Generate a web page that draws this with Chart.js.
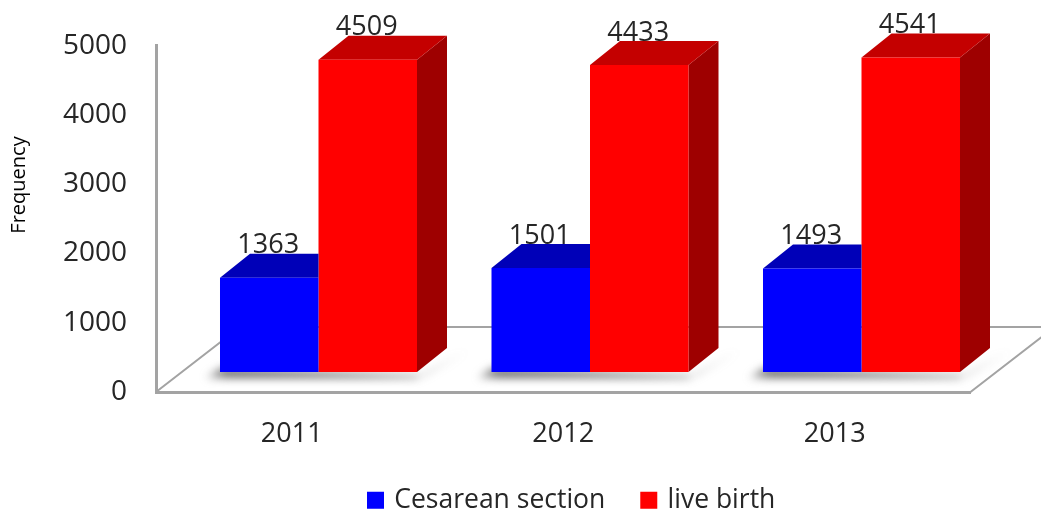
<!DOCTYPE html>
<html lang="en">
<head>
    <meta charset="UTF-8">
    <title>Cesarean section and live birth</title>
    <style>
        html, body { margin: 0; padding: 0; background: #fff; overflow: hidden; }
        #birthChart { display: block; }
    </style>
    <script src="https://cdn.jsdelivr.net/npm/chart.js"></script>
</head>
<body>
    <canvas id="birthChart" width="1041" height="514"></canvas>

    <script>
        const years = ['2011', '2012', '2013'];
        const cesarean = [1363, 1501, 1493];
        const liveBirth = [4509, 4433, 4541];
        const yTicks = [0, 1000, 2000, 3000, 4000, 5000];

        const textColor = '#262626';
        const axisColor = '#a3a3a3';
        const fontName = '"Open Sans", sans-serif';

        // front plane of the bars sits this far from the axis plane
        const shiftX = 26.75, shiftY = -20;
        const depthX = 30, depthY = -24;

        function poly(ctx, pts, color) {
            ctx.fillStyle = color;
            ctx.beginPath();
            pts.forEach((p, i) => i ? ctx.lineTo(p[0], p[1]) : ctx.moveTo(p[0], p[1]));
            ctx.closePath();
            ctx.fill();
        }

        const floorPlugin = {
            id: 'floor',
            beforeDatasetsDraw(chart) {
                const ctx = chart.ctx, a = chart.chartArea;
                ctx.save();
                // floor outline
                ctx.strokeStyle = axisColor;
                ctx.lineWidth = 2;
                ctx.beginPath();
                ctx.moveTo(a.left, a.bottom);
                ctx.lineTo(a.left + 84, a.bottom - 65);
                ctx.lineTo(chart.width + 10, a.bottom - 65);
                ctx.moveTo(a.right, a.bottom);
                ctx.lineTo(a.right + 84, a.bottom - 65);
                ctx.stroke();
                // soft shadow under each bar pair
                const first = chart.getDatasetMeta(0).data;
                const second = chart.getDatasetMeta(1).data;
                ctx.filter = 'blur(4px)';
                first.forEach((el, i) => {
                    const l = el.x - el.width / 2 + shiftX;
                    const r = second[i].x + second[i].width / 2 + shiftX;
                    const b = a.bottom + shiftY;
                    const g = ctx.createLinearGradient(l - 20, 0, r + depthX + 24, 0);
                    g.addColorStop(0, 'rgba(110,110,110,0.2)');
                    g.addColorStop(0.1, 'rgba(110,110,110,1)');
                    g.addColorStop(0.8, 'rgba(110,110,110,1)');
                    g.addColorStop(1, 'rgba(110,110,110,0)');
                    poly(ctx, [[l - 14, b + 6], [r, b + 6], [r + depthX + 14, b + depthY + 6], [r + depthX + 24, b + depthY + 1], [r + 6, b + 4], [l, b - 4]], g);
                });
                ctx.restore();
            }
        };

        // draws side and top faces, then leaves the front face to the bar element itself
        const depthPlugin = {
            id: 'depth',
            beforeDatasetDraw(chart, args) {
                const ctx = chart.ctx;
                // chart.js paints the last dataset first, so red is already down when blue comes
                const isBlue = args.index === 0;
                args.meta.data.forEach(el => {
                    const l = el.x - el.width / 2 + shiftX;
                    const r = el.x + el.width / 2 + shiftX;
                    const t = el.y + shiftY;
                    const b = el.base + shiftY;
                    if (isBlue) {
                        // the red bar next to it hides the rest of this face
                        poly(ctx, [[l, t], [l + depthX, t + depthY], [r, t + depthY], [r, t]], '#0000b8');
                    } else {
                        poly(ctx, [[r, t], [r + depthX, t + depthY], [r + depthX, b + depthY], [r, b]], '#9e0000');
                        poly(ctx, [[l, t], [l + depthX, t + depthY], [r + depthX, t + depthY], [r, t]], '#c40000');
                    }
                });
                ctx.save();
                ctx.translate(shiftX, shiftY);
            },
            afterDatasetDraw(chart) {
                chart.ctx.restore();
            },
            afterDatasetsDraw(chart) {
                const ctx = chart.ctx;
                ctx.save();
                ctx.font = '27px ' + fontName;
                ctx.fillStyle = textColor;
                ctx.textAlign = 'center';
                ctx.textBaseline = 'middle';
                chart.data.datasets.forEach((ds, d) => {
                    chart.getDatasetMeta(d).data.forEach((el, i) => {
                        ctx.fillText(ds.data[i], el.x + shiftX - 1, el.y + shiftY - 32);
                    });
                });
                ctx.font = '20px ' + fontName;
                ctx.fillStyle = '#000';
                ctx.translate(19, 185);
                ctx.rotate(-Math.PI / 2);
                ctx.fillText('Frequency', 0, 0);
                ctx.restore();
            },
            beforeDraw(chart) {
                // legend sits right of centre in the reference
                chart.legend.left = 372 - 40;
                chart.legend.top = 449;
                // tick labels get clipped to the scale box otherwise
                chart.scales.x.bottom = chart.height;
            }
        };

        new Chart(document.getElementById('birthChart'), {
            type: 'bar',
            data: {
                labels: years,
                datasets: [
                    { label: 'Cesarean section', data: cesarean, backgroundColor: '#0000ff', clip: false },
                    { label: 'live birth', data: liveBirth, backgroundColor: '#ff0000', clip: false }
                ]
            },
            options: {
                responsive: false,
                animation: false,
                categoryPercentage: 0.7256,
                barPercentage: 1,
                layout: { padding: { left: 0, right: 70.5, top: 42.5, bottom: 0 } },
                scales: {
                    x: {
                        grid: { display: false },
                        border: { color: axisColor, width: 3 },
                        ticks: { font: { family: fontName, size: 27 }, color: textColor, padding: 18, maxRotation: 0 },
                        afterFit(scale) {
                            const legendHeight = scale.chart.legend ? scale.chart.legend.height : 0;
                            scale.height = 122 - legendHeight;
                        }
                    },
                    y: {
                        min: 0,
                        max: 5000,
                        afterBuildTicks(scale) {
                            scale.ticks = yTicks.map(v => ({ value: v }));
                        },
                        grid: { display: false, drawTicks: false },
                        border: { color: axisColor, width: 3 },
                        ticks: {
                            font: { family: fontName, size: 28 },
                            color: textColor,
                            padding: 29,
                            callback: v => String(v)
                        },
                        afterFit(scale) { scale.width = 156; }
                    }
                },
                plugins: {
                    legend: {
                        position: 'bottom',
                        align: 'start',
                        labels: {
                            boxWidth: 11,
                            boxHeight: 11,
                            padding: 38,
                            font: { family: fontName, size: 26.5 },
                            color: textColor,
                            // thick stroke keeps the marker 17px wide with the text close to it
                            generateLabels(chart) {
                                return chart.data.datasets.map((ds, i) => ({
                                    text: ds.label,
                                    fillStyle: ds.backgroundColor,
                                    strokeStyle: ds.backgroundColor,
                                    lineWidth: 6,
                                    fontColor: textColor,
                                    datasetIndex: i
                                }));
                            }
                        }
                    },
                    tooltip: { enabled: false }
                }
            },
            plugins: [floorPlugin, depthPlugin]
        });
    </script>
</body>
</html>
